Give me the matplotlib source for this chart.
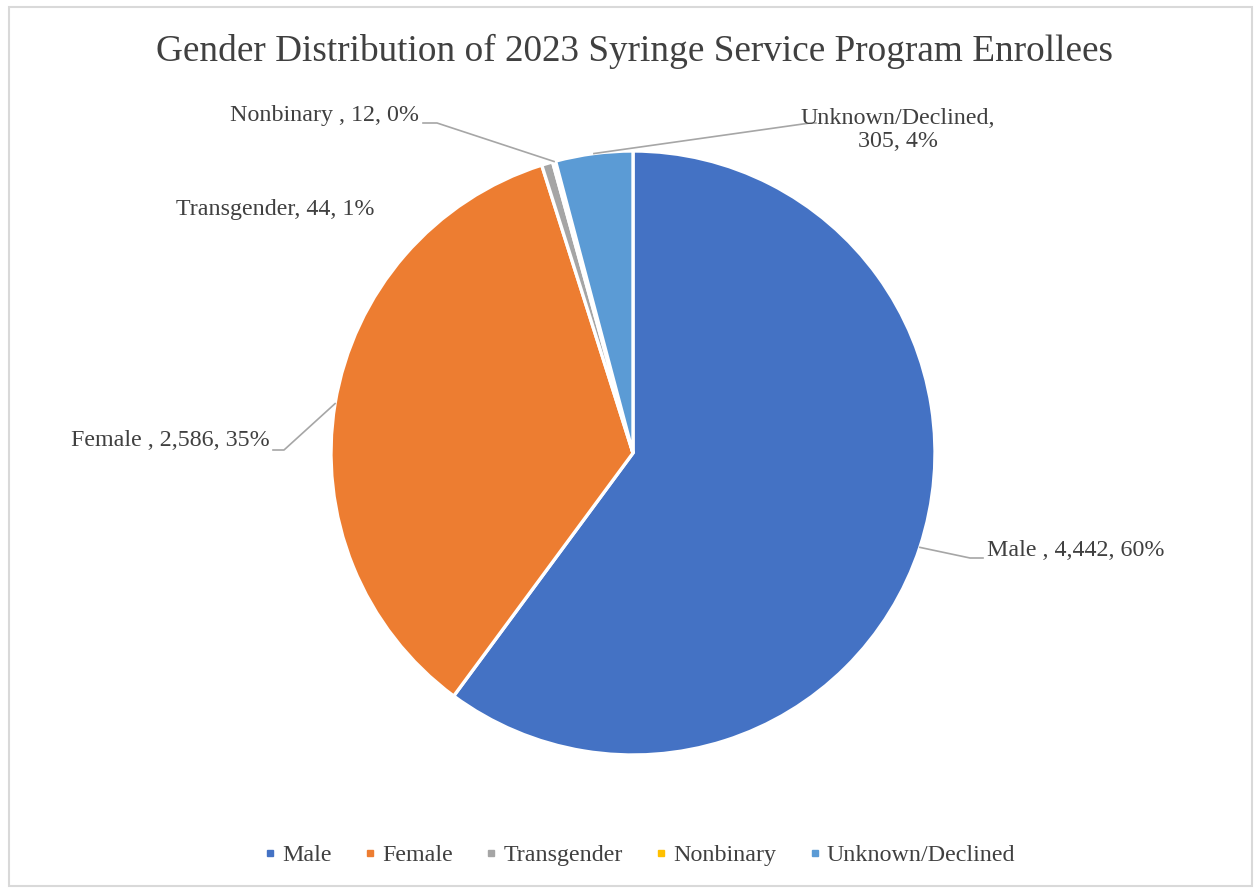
import numpy as np
import matplotlib.pyplot as plt
from matplotlib.lines import Line2D
from matplotlib.patches import Rectangle

# data
categories = ['Male', 'Female', 'Transgender', 'Nonbinary', 'Unknown/Declined']
counts = [4442, 2586, 44, 12, 305]
label_names = ['Male ', 'Female ', 'Transgender', 'Nonbinary ', 'Unknown/Declined']
colors = ['#4472C4', '#ED7D31', '#A5A5A5', '#FFC000', '#5B9BD5']

plt.rcParams['font.family'] = ['Liberation Serif', 'DejaVu Serif']
txt = '#404040'

W, H = 1257, 890
fig = plt.figure(figsize=(W / 100, H / 100), dpi=100)
ax = fig.add_axes([0, 0, 1, 1])

cx, cy, r = 633, H - 453, 302
wedges, _ = ax.pie(counts, colors=colors, startangle=90, counterclock=False,
                   center=(cx, cy), radius=r, frame=True,
                   wedgeprops=dict(edgecolor='white', linewidth=2.4))
ax.set_xlim(0, W)
ax.set_ylim(0, H)
ax.set_aspect('equal')
ax.axis('off')

# chart frame
ax.add_patch(Rectangle((9, 4), 1243, 879, fill=False, edgecolor='#d9d9d9', lw=1.5))

total = sum(counts)
labels = []
for n, c in zip(label_names, counts):
    labels.append('{0}, {1:,}, {2:.0%}'.format(n, c, c / total))
labels[4] = 'Unknown/Declined,\n{0}, {1:.0%}'.format(counts[4], counts[4] / total)

def edge(w):
    a = np.deg2rad((w.theta1 + w.theta2) / 2)
    return cx + r * np.cos(a), cy + r * np.sin(a)

fs = 17.3
lc = '#a6a6a6'
# Male
x0, y0 = edge(wedges[0])
ax.plot([x0, 970, 983], [y0, H - 558, H - 558], color=lc, lw=1.2)
ax.text(987, H - 550, labels[0], ha='left', va='center', fontsize=fs, color=txt)
# Female
x0, y0 = edge(wedges[1])
ax.plot([x0, 284, 273], [y0, H - 450, H - 450], color=lc, lw=1.2)
ax.text(270, H - 441, labels[1], ha='right', va='center', fontsize=fs, color=txt)
# Transgender
ax.text(176, H - 210, labels[2], ha='left', va='center', fontsize=fs, color=txt)
# Nonbinary
x0, y0 = edge(wedges[3])
ax.plot([x0, 437, 423], [y0, H - 123, H - 123], color=lc, lw=1.2)
ax.text(419, H - 116, labels[3], ha='right', va='center', fontsize=fs, color=txt)
# Unknown
x0, y0 = edge(wedges[4])
ax.plot([x0, 810, 816], [y0, H - 123, H - 123], color=lc, lw=1.2)
ax.text(898, H - 130, labels[4], ha='center', va='center', fontsize=fs, color=txt,
        linespacing=1.1)

ax.text(634, H - 51, 'Gender Distribution of 2023 Syringe Service Program Enrollees',
        ha='center', va='center', fontsize=26.8, color=txt)

handles = [Line2D([], [], marker='s', ls='', color=c, markersize=4) for c in colors]
fig.legend(handles, categories, loc='center', bbox_to_anchor=(639 / W, 1 - 855 / H),
           ncol=5, frameon=False, fontsize=17.3, handletextpad=0.2, columnspacing=1.3,
           handlelength=0.6, labelcolor=txt)

fig.savefig('out.png', dpi=100)
